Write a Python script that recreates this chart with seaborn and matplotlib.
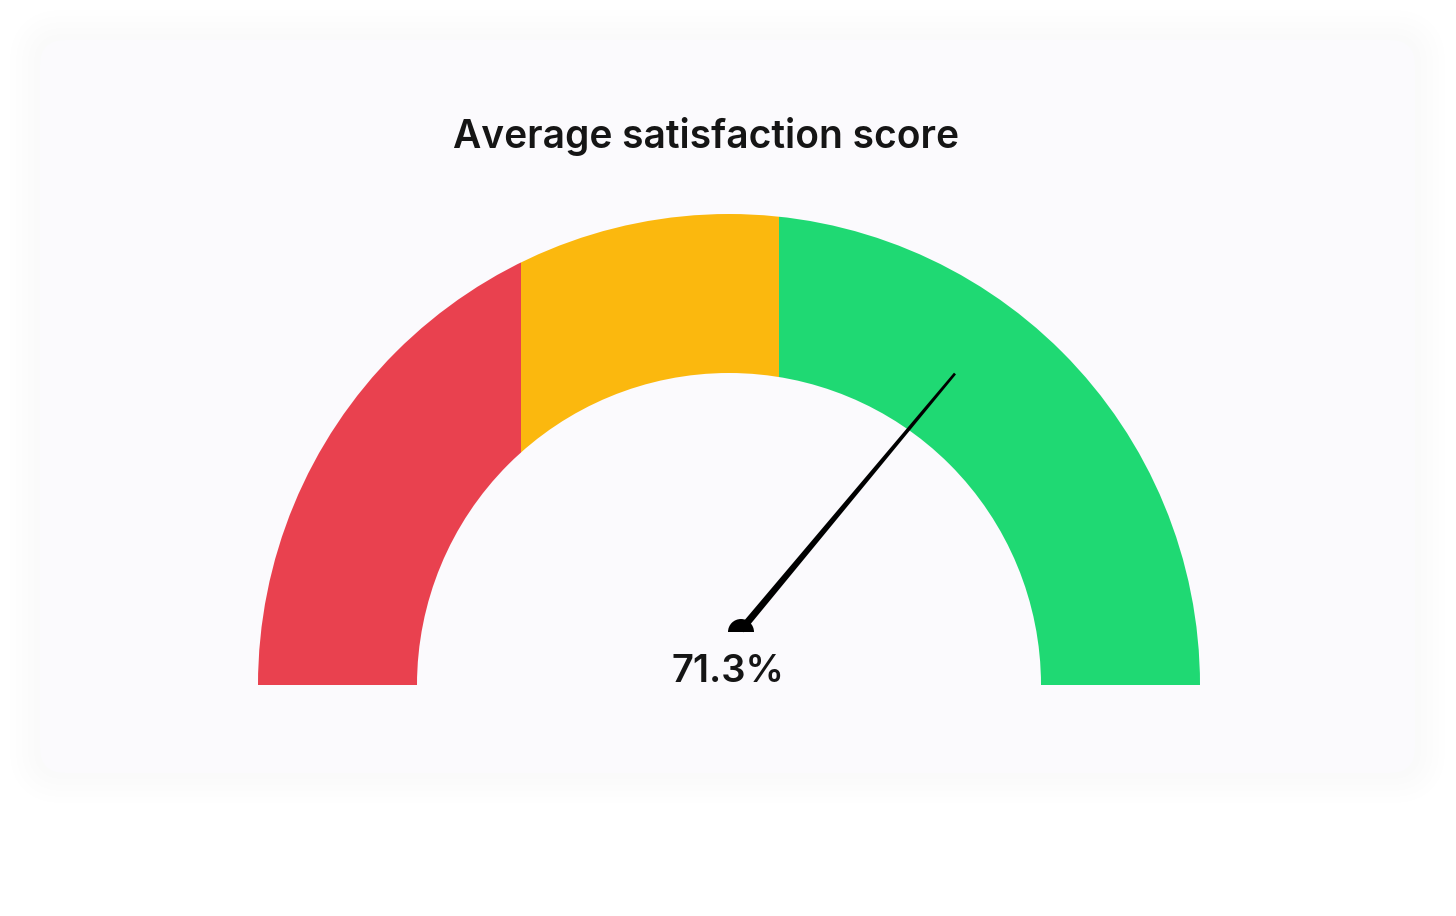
import numpy as np
import matplotlib
matplotlib.use("Agg")
import matplotlib.pyplot as plt
import seaborn as sns
from matplotlib.patches import Wedge, Rectangle, FancyBboxPatch

# gauge data
title = "Average satisfaction score"
score = 71.3
band_edges = [0, 27.9, 55.3, 100]          # share of gauge width, percent
band_colors = ["#E9414F", "#FBB80E", "#1FD973"]

sns.set_theme(style="white")
plt.rcParams['font.family'] = ['Inter', 'DejaVu Sans']

fig = plt.figure(figsize=(14.56, 9.16), dpi=100)
fig.patch.set_facecolor("white")
ax = fig.add_axes([0, 0, 1, 1])
ax.set_xlim(0, 1456)
ax.set_ylim(0, 916)
ax.set_aspect("equal")
ax.axis("off")

# card with soft shadow
for i, a in enumerate([0.006, 0.006, 0.007, 0.008, 0.009]):
    pad = 30 - i * 6
    ax.add_patch(FancyBboxPatch((40, 143), 1375, 733,
                                boxstyle="round,pad=%d,rounding_size=%d" % (pad, 25 + pad),
                                facecolor="#8a86a0", edgecolor="none", alpha=a, zorder=0))
ax.add_patch(FancyBboxPatch((40, 143), 1375, 733, boxstyle="round,pad=0,rounding_size=25",
                            facecolor="#FBFAFD", edgecolor="none", zorder=1))

# gauge bands
cx, cy = 729, 231
r_out, r_in = 471, 312
for lo, hi, col in zip(band_edges[:-1], band_edges[1:], band_colors):
    x0 = cx - r_out + lo / 100 * 2 * r_out
    x1 = cx - r_out + hi / 100 * 2 * r_out
    w = Wedge((cx, cy), r_out, 0, 180, width=r_out - r_in, facecolor=col,
              edgecolor="none", zorder=2)
    ax.add_patch(w)
    clip = Rectangle((x0, cy - 1), x1 - x0, r_out + 2, transform=ax.transData)
    w.set_clip_path(clip)

# needle (tapered)
px, py = 741, 286
ang = np.deg2rad(180 * (1 - score / 100) - 1.5)
length = 334
ux, uy = np.cos(ang), np.sin(ang)
vx, vy = -uy, ux
hb, ht = 3.6, 1.3
tx, ty = px + length * ux, py + length * uy
ax.fill([px + hb * vx, tx + ht * vx, tx - ht * vx, px - hb * vx],
        [py + hb * vy, ty + ht * vy, ty - ht * vy, py - hb * vy],
        color="black", lw=0, zorder=4)
ax.add_patch(Wedge((px, py - 2), 13, 0, 180, facecolor="black", edgecolor="none", zorder=5))

ax.text(728, 244, "%.1f%%" % score, ha="center", va="center", fontsize=27.5,
        fontweight="semibold", color="#151515", zorder=6)
ax.text(706, 780, title, ha="center", va="center", fontsize=28,
        fontweight="semibold", color="#151515", zorder=6)

fig.savefig("out.png", dpi=100)
